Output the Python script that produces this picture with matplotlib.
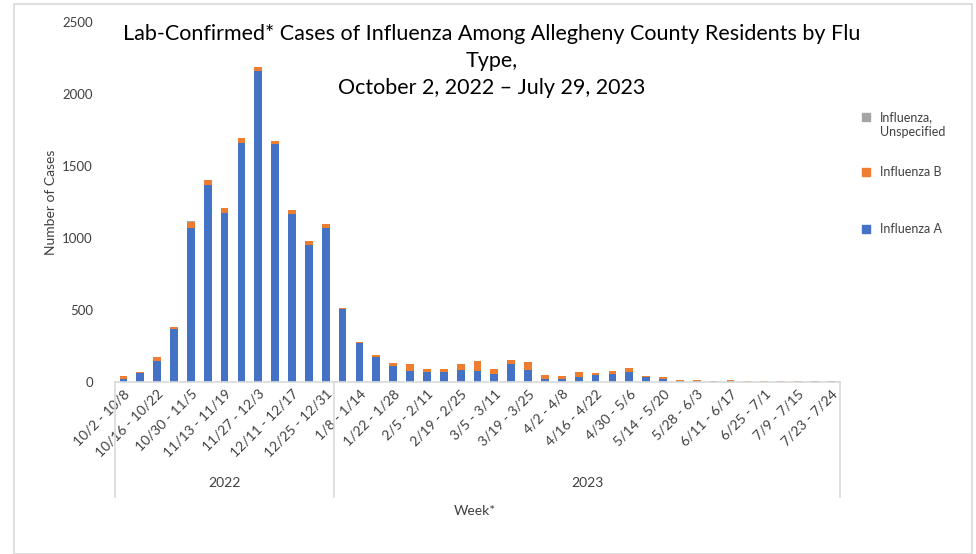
import numpy as np
import matplotlib
matplotlib.use('Agg')
from matplotlib import pyplot as plt
from matplotlib.patches import Rectangle
from matplotlib.lines import Line2D

plt.rcParams['font.family'] = ['Lato', 'DejaVu Sans']

# weekly counts, Oct 2 2022 - Jul 29 2023
flu_a = [23, 60, 146, 367, 1070, 1366, 1174, 1663, 2158, 1656, 1164, 953, 1067,
         506, 269, 172, 111, 77, 67, 67, 86, 77, 58, 127, 86, 21, 21, 33, 49,
         58, 67, 33, 21, 7, 7, 10, 7, 0, 0, 0, 0, 10, 10]
flu_b = [17, 10, 28, 16, 44, 38, 35, 28, 27, 21, 28, 28, 30,
         9, 9, 18, 19, 50, 26, 26, 41, 69, 35, 28, 53, 28, 19, 35, 11,
         18, 28, 9, 12, 7, 7, 0, 7, 10, 10, 10, 10, 0, 0]
flu_u = [2, 0, 0, 0, 5, 2, 2, 0, 2, 0, 1, 0, 1,
         0, 0, 0, 0, 0, 0, 0, 0, 0, 0, 0, 0, 0, 0, 0, 0,
         0, 0, 0, 0, 0, 0, 0, 0, 0, 0, 0, 0, 0, 0]
week_labels = ['10/2 - 10/8', '10/16 - 10/22', '10/30 - 11/5', '11/13 - 11/19',
               '11/27 - 12/3', '12/11 - 12/17', '12/25 - 12/31', '1/8 - 1/14',
               '1/22 - 1/28', '2/5 - 2/11', '2/19 - 2/25', '3/5 - 3/11',
               '3/19 - 3/25', '4/2 - 4/8', '4/16 - 4/22', '4/30 - 5/6',
               '5/14 - 5/20', '5/28 - 6/3', '6/11 - 6/17', '6/25 - 7/1',
               '7/9 - 7/15', '7/23 - 7/24']
years = ['2022', '2023']
weeks_per_year = [13, 30]
series_names = ['Influenza,\nUnspecified', 'Influenza B', 'Influenza A']

c_a = '#4472C4'
c_b = '#ED7D31'
c_u = '#A5A5A5'
grey = '#D9D9D9'
txt = '#404040'

fig = plt.figure(figsize=(9.76, 5.54), dpi=100)
fig.patches.append(Rectangle((14 / 976, 0), 958 / 976, 1 - 4 / 554, transform=fig.transFigure,
                             fill=False, edgecolor=grey, linewidth=1.2))
ax = fig.add_axes([115 / 976, 1 - 382 / 554, 725 / 976, 360 / 554])

n = len(flu_a)
x = np.arange(n)
a = np.array(flu_a)
b = np.array(flu_b)
u = np.array(flu_u)
w = 0.46
ax.bar(x, a, w, color=c_a)
ax.bar(x, b, w, bottom=a, color=c_b)
ax.bar(x, u, w, bottom=a + b, color=c_u)

ax.set_xlim(-0.5, n - 0.5)
ax.set_ylim(0, 2500)
ax.set_yticks(range(0, 2501, 500))
ax.tick_params(axis='y', length=0, labelsize=9.5, labelcolor=txt, pad=16)
for s in ['top', 'right', 'left']:
    ax.spines[s].set_visible(False)
ax.spines['bottom'].set_color(grey)
ax.spines['bottom'].set_linewidth(1.2)

ax.set_xticks(x[::2])
ax.set_xticklabels(week_labels, rotation=45, ha='right', va='top',
                   rotation_mode='anchor', fontsize=10, color=txt)
ax.tick_params(axis='x', length=0, pad=4)

# year grouping under the week labels
box_bottom = -115 / 360
edges = np.concatenate([[0], np.cumsum(weeks_per_year)])
for e in edges:
    xf = e / n
    ax.add_line(Line2D([xf, xf], [0, box_bottom], transform=ax.transAxes,
                       color=grey, linewidth=1.2, clip_on=False))
for i, yr in enumerate(years):
    xc = (edges[i] + edges[i + 1]) / 2 / n
    ax.text(xc, -101 / 360, yr, transform=ax.transAxes, ha='center', va='center',
            fontsize=10, color=txt)

ax.set_ylabel('Number of Cases', fontsize=10, color=txt)
ax.yaxis.set_label_coords(-57 / 725 - 0.002, 0.5)
fig.text(475 / 976, 1 - 511 / 554, 'Week*', ha='center', va='center', fontsize=10, color=txt)

fig.text(492 / 976, 1 - 61 / 554,
         'Lab-Confirmed* Cases of Influenza Among Allegheny County Residents by Flu\nType,\n'
         'October 2, 2022 \u2013 July 29, 2023',
         ha='center', va='center', fontsize=15.5, color='#000000', linespacing=1.42)

# legend, drawn entry by entry to keep Excel's uneven spacing
leg_y = [117, 172, 229]
leg_c = [c_u, c_b, c_a]
for name, yy, cc in zip(series_names, leg_y, leg_c):
    fig.patches.append(Rectangle((862 / 976, 1 - (yy + 4) / 554), 8 / 976, 8 / 554,
                                 transform=fig.transFigure, color=cc))
    fig.text(880 / 976, 1 - (yy - 6) / 554, name, ha='left', va='top',
             fontsize=9, color=txt, linespacing=1.35)

fig.savefig('out.png', dpi=100)
